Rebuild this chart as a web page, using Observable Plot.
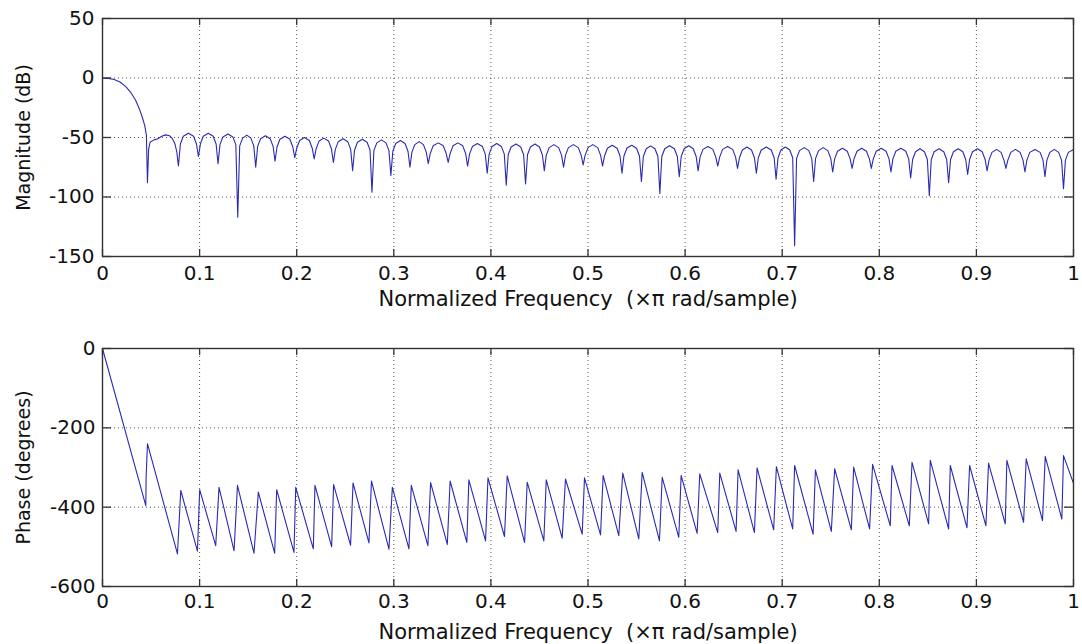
<!DOCTYPE html>
<html>
<head>
<meta charset="utf-8">
<script src="https://cdn.jsdelivr.net/npm/d3@7"></script>
<script src="https://cdn.jsdelivr.net/npm/@observablehq/plot@0.6"></script>
<style>
  html, body { margin: 0; padding: 0; background: #fff; }
  #chart svg { display: block; }
</style>
</head>
<body>
<div id="chart"></div>
<script>
// ---- tick values and labels ----
const freqTicks = [0, 0.1, 0.2, 0.3, 0.4, 0.5, 0.6, 0.7, 0.8, 0.9, 1];
const magTicks = [-150, -100, -50, 0, 50];
const phaseTicks = [-600, -400, -200, 0];
const xLabel = "Normalized Frequency\u00a0 (\u00d7\u03c0 rad/sample)";
const magLabel = "Magnitude (dB)";
const phaseLabel = "Phase (degrees)";

// ---- magnitude response ----
const magFreq = [
  0, 0.006, 0.012, 0.018, 0.024, 0.029, 0.034, 0.038, 0.041, 0.0435, 0.0452, 0.0463,
  0.0475, 0.049, 0.053, 0.057, 0.061, 0.065, 0.069, 0.072, 0.0745, 0.0765, 0.0782,
  0.0802, 0.0832, 0.0885, 0.0938, 0.0968, 0.0988,
  0.1008, 0.1038, 0.1089, 0.1140, 0.1170, 0.1190,
  0.1210, 0.1240, 0.1292, 0.1343, 0.1373, 0.1393,
  0.1413, 0.1443, 0.1486, 0.1528, 0.1558, 0.1578,
  0.1598, 0.1628, 0.1678, 0.1727, 0.1757, 0.1777,
  0.1797, 0.1827, 0.1879, 0.1930, 0.1960, 0.1980,
  0.2000, 0.2030, 0.2080, 0.2130, 0.2160, 0.2180,
  0.2200, 0.2230, 0.2279, 0.2328, 0.2358, 0.2378,
  0.2398, 0.2428, 0.2477, 0.2526, 0.2556, 0.2576,
  0.2596, 0.2626, 0.2676, 0.2725, 0.2755, 0.2775,
  0.2795, 0.2825, 0.2873, 0.2920, 0.2950, 0.2970,
  0.2990, 0.3020, 0.3068, 0.3116, 0.3146, 0.3166,
  0.3186, 0.3216, 0.3261, 0.3305, 0.3335, 0.3355,
  0.3375, 0.3405, 0.3458, 0.3510, 0.3540, 0.3560,
  0.3580, 0.3610, 0.3660, 0.3710, 0.3740, 0.3760,
  0.3780, 0.3810, 0.3861, 0.3912, 0.3942, 0.3962,
  0.3982, 0.4012, 0.4060, 0.4108, 0.4138, 0.4158,
  0.4178, 0.4208, 0.4258, 0.4307, 0.4337, 0.4357,
  0.4377, 0.4407, 0.4454, 0.4500, 0.4530, 0.4550,
  0.4570, 0.4600, 0.4649, 0.4698, 0.4728, 0.4748,
  0.4768, 0.4798, 0.4849, 0.4900, 0.4930, 0.4950,
  0.4970, 0.5000, 0.5050, 0.5100, 0.5130, 0.5150,
  0.5170, 0.5200, 0.5250, 0.5300, 0.5330, 0.5350,
  0.5370, 0.5400, 0.5450, 0.5500, 0.5530, 0.5550,
  0.5570, 0.5600, 0.5645, 0.5690, 0.5720, 0.5740,
  0.5760, 0.5790, 0.5840, 0.5890, 0.5920, 0.5940,
  0.5960, 0.5990, 0.6037, 0.6084, 0.6114, 0.6134,
  0.6154, 0.6184, 0.6235, 0.6286, 0.6316, 0.6336,
  0.6356, 0.6386, 0.6438, 0.6490, 0.6520, 0.6540,
  0.6560, 0.6590, 0.6637, 0.6684, 0.6714, 0.6734,
  0.6754, 0.6784, 0.6836, 0.6887, 0.6917, 0.6937,
  0.6957, 0.6987, 0.7033, 0.7078, 0.7108, 0.7128,
  0.7148, 0.7178, 0.7226, 0.7274, 0.7304, 0.7324,
  0.7344, 0.7374, 0.7422, 0.7470, 0.7500, 0.7520,
  0.7540, 0.7570, 0.7620, 0.7670, 0.7700, 0.7720,
  0.7740, 0.7770, 0.7819, 0.7868, 0.7898, 0.7918,
  0.7938, 0.7968, 0.8019, 0.8070, 0.8100, 0.8120,
  0.8140, 0.8170, 0.8222, 0.8273, 0.8303, 0.8323,
  0.8343, 0.8373, 0.8419, 0.8465, 0.8495, 0.8515,
  0.8535, 0.8565, 0.8615, 0.8664, 0.8694, 0.8714,
  0.8734, 0.8764, 0.8812, 0.8860, 0.8890, 0.8910,
  0.8930, 0.8960, 0.9010, 0.9060, 0.9090, 0.9110,
  0.9130, 0.9160, 0.9207, 0.9254, 0.9284, 0.9304,
  0.9324, 0.9354, 0.9402, 0.9450, 0.9480, 0.9500,
  0.9520, 0.9550, 0.9603, 0.9656, 0.9686, 0.9706,
  0.9726, 0.9756, 0.9802, 0.9847, 0.9877, 0.9897,
  0.9917, 0.9947, 1.0
];
const magDb = [
  0, -0.3, -1.2, -3.4, -7.2, -12, -18.5, -26, -33, -40, -48, -88,
  -60, -54, -52, -51, -49, -47.8, -48.5, -51, -55, -62, -74,
  -55.5, -49, -46.5, -49, -55.5, -66,
  -55.5, -49, -46.5, -49, -55.5, -72,
  -56, -49.5, -47, -49.5, -56, -117,
  -57, -50.5, -48, -50.5, -57, -75,
  -57.5, -51, -48.5, -51, -57.5, -70,
  -58, -51.5, -49, -51.5, -58, -67,
  -59, -52.5, -50, -52.5, -59, -68,
  -59.5, -53, -50.5, -53, -59.5, -71,
  -60, -53.5, -51, -53.5, -60, -78,
  -60.5, -54, -51.5, -54, -60.5, -96,
  -61, -54.5, -52, -54.5, -61, -82,
  -61.5, -55, -52.5, -55, -61.5, -75,
  -62.5, -56, -53.5, -56, -62.5, -72,
  -63.5, -57, -54.5, -57, -63.5, -71,
  -63.5, -57, -54.5, -57, -63.5, -74,
  -64, -57.5, -55, -57.5, -64, -80,
  -64, -57.5, -55, -57.5, -64, -90,
  -64.5, -58, -55.5, -58, -64.5, -89,
  -64.5, -58, -55.5, -58, -64.5, -78,
  -65, -58.5, -56, -58.5, -65, -75,
  -65, -58.5, -56, -58.5, -65, -73,
  -65, -58.5, -56, -58.5, -65, -74,
  -65.5, -59, -56.5, -59, -65.5, -80,
  -65.5, -59, -56.5, -59, -65.5, -87,
  -66, -59.5, -57, -59.5, -66, -97,
  -66, -59.5, -57, -59.5, -66, -83,
  -66, -59.5, -57, -59.5, -66, -78,
  -66.5, -60, -57.5, -60, -66.5, -74,
  -66.5, -60, -57.5, -60, -66.5, -76,
  -67, -60.5, -58, -60.5, -67, -80,
  -67, -60.5, -58, -60.5, -67, -85,
  -67, -60.5, -58, -60.5, -67, -141,
  -67.5, -61, -58.5, -61, -67.5, -87,
  -67.5, -61, -58.5, -61, -67.5, -79,
  -68, -61.5, -59, -61.5, -68, -76,
  -68, -61.5, -59, -61.5, -68, -76,
  -68, -61.5, -59, -61.5, -68, -79,
  -68, -61.5, -59, -61.5, -68, -84,
  -68.5, -62, -59.5, -62, -68.5, -99,
  -68.5, -62, -59.5, -62, -68.5, -88,
  -68.5, -62, -59.5, -62, -68.5, -81,
  -68.5, -62, -59.5, -62, -68.5, -78,
  -69, -62.5, -60, -62.5, -69, -76,
  -69, -62.5, -60, -62.5, -69, -79,
  -69, -62.5, -60, -62.5, -69, -83,
  -69, -62.5, -60, -62.5, -69, -93,
  -69, -62.5, -60
];

// ---- phase response ----
const phaseFreq = [
  0, 0.0446, 0.0449, 0.0463,
  0.0772, 0.0806, 0.0978, 0.1001, 0.1166, 0.1200, 0.1355, 0.1390,
  0.1560, 0.1605, 0.1773, 0.1794, 0.1972, 0.1990, 0.2171, 0.2188,
  0.2360, 0.2380, 0.2555, 0.2580, 0.2744, 0.2770, 0.2950, 0.2985,
  0.3156, 0.3180, 0.3351, 0.3379, 0.3551, 0.3580, 0.3752, 0.3773,
  0.3945, 0.3970, 0.4140, 0.4168, 0.4347, 0.4374, 0.4545, 0.4570,
  0.4734, 0.4768, 0.4940, 0.4964, 0.5129, 0.5156, 0.5317, 0.5358,
  0.5523, 0.5558, 0.5736, 0.5764, 0.5935, 0.5959, 0.6124, 0.6151,
  0.6336, 0.6357, 0.6525, 0.6546, 0.6714, 0.6741, 0.6912, 0.6940,
  0.7108, 0.7128, 0.7318, 0.7342, 0.7506, 0.7540, 0.7712, 0.7736,
  0.7900, 0.7931, 0.8113, 0.8131, 0.8309, 0.8337, 0.8508, 0.8525,
  0.8714, 0.8731, 0.8903, 0.8930, 0.9098, 0.9125, 0.9297, 0.9314,
  0.9486, 0.9513, 0.9681, 0.9709, 0.9880, 0.9897, 1.0
];
const phaseDeg = [
  0, -396, -325, -240,
  -518, -358, -511, -356, -497, -350, -510, -345,
  -516, -362, -516, -356, -514, -350, -505, -345,
  -500, -343, -496, -339, -490, -334, -506, -350,
  -505, -345, -497, -338, -494, -334, -489, -331,
  -485, -326, -474, -321, -489, -337, -485, -331,
  -478, -329, -468, -326, -470, -320, -472, -314,
  -480, -312, -485, -325, -476, -320, -466, -316,
  -464, -314, -461, -306, -464, -301, -457, -298,
  -455, -295, -468, -306, -461, -303, -457, -299,
  -455, -292, -447, -295, -447, -287, -442, -282,
  -455, -295, -452, -295, -447, -289, -442, -282,
  -438, -278, -434, -272, -430, -270, -340
];

const magRows = magFreq.map((f, i) => ({f, v: magDb[i]}));
const phaseRows = phaseFreq.map((f, i) => ({f, v: phaseDeg[i]}));

const lineColor = "#2a2ab4";
const gridStyle = {stroke: "#555", strokeOpacity: 1, strokeWidth: 1, strokeDasharray: "1,3"};
const fmt = d => String(d);

function panel({rows, yDomain, yTicks, yLabel, height, marginTop, marginBottom, xPad, yPad, xLabelDy}) {
  const innerH = height - marginTop - marginBottom;
  const innerW = 1082 - 102 - 9;
  return Plot.plot({
    width: 1082,
    height,
    marginLeft: 102,
    marginRight: 9,
    marginTop,
    marginBottom,
    style: {fontFamily: "'DejaVu Sans', sans-serif", fontSize: "20px", color: "#111", background: "#fff", overflow: "visible"},
    x: {domain: [0, 1], ticks: freqTicks, tickFormat: fmt, tickSize: 0, tickPadding: xPad, label: null},
    y: {domain: yDomain, ticks: yTicks, tickFormat: fmt, tickSize: 0, tickPadding: yPad, label: null},
    marks: [
      Plot.ruleX(freqTicks, gridStyle),
      Plot.ruleY(yTicks, gridStyle),
      Plot.line(rows, {x: "f", y: "v", stroke: lineColor, strokeWidth: 1.1, curve: "linear"}),
      // inward tick marks on all four sides
      Plot.ruleX(freqTicks, {stroke: "#333", strokeWidth: 1.3, insetTop: innerH - 7}),
      Plot.ruleX(freqTicks, {stroke: "#333", strokeWidth: 1.3, insetBottom: innerH - 7}),
      Plot.ruleY(yTicks, {stroke: "#333", strokeWidth: 1.3, insetRight: innerW - 9}),
      Plot.ruleY(yTicks, {stroke: "#333", strokeWidth: 1.3, insetLeft: innerW - 9}),
      Plot.frame({stroke: "#333", strokeWidth: 1.4}),
      Plot.text([xLabel], {text: d => d, frameAnchor: "bottom", textAnchor: "middle", lineAnchor: "middle", dy: xLabelDy, fontSize: 21, fill: "#111"}),
      Plot.text([yLabel], {text: d => d, frameAnchor: "left", textAnchor: "middle", lineAnchor: "middle", dx: -79, rotate: -90, fontSize: 19, fill: "#111"})
    ]
  });
}

const magPanel = panel({
  rows: magRows, yDomain: [-150, 50], yTicks: magTicks, yLabel: magLabel,
  height: 320, marginTop: 18, marginBottom: 64, xPad: 9, yPad: 8, xLabelDy: 43
});
const phasePanel = panel({
  rows: phaseRows, yDomain: [-600, 0], yTicks: phaseTicks, yLabel: phaseLabel,
  height: 324, marginTop: 28, marginBottom: 58, xPad: 7, yPad: 7, xLabelDy: 46
});
const host = document.getElementById("chart");
host.appendChild(magPanel);
host.appendChild(phasePanel);
</script>
</body>
</html>
